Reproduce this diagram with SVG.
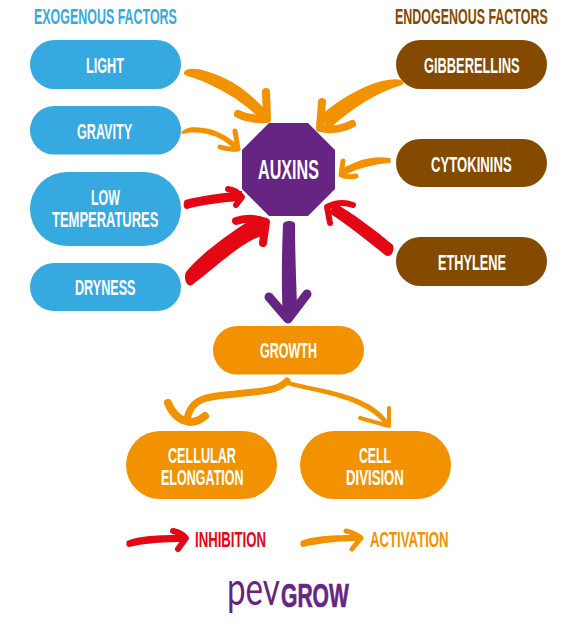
<svg xmlns="http://www.w3.org/2000/svg" width="575" height="635" viewBox="0 0 575 635">
<style>
text{font-family:"Liberation Sans",Arial,sans-serif;font-weight:700;font-size:22px}
.w{fill:#fff}
.blue{fill:#36a9e1}.brown{fill:#844a00}.orange{fill:#f39200}.purple{fill:#662483}.red{fill:#e30613}
.ho,.hr,.hp{fill:none;stroke-linecap:round;stroke-linejoin:round}
.ho{stroke:#f39200}.hr{stroke:#e30613}.hp{stroke:#662483}
</style>
<rect width="575" height="635" fill="#fff"/>
<g id="connectors">
<path class="orange" d="M185 71C190 66 205 70 217 75C235 82 252 94 269 114L262 121C250 108 240 102 233 97C218 88 200 79 187 76C184 75 183 73 185 71Z"/>
<path class="ho" stroke-width="8" d="M266 92L267 119Q250 120 238 114"/>
<path class="orange" d="M181 133C186 125 200 127 213 130C222 133 230 138 238 145L235 150C228 143 222 140 217 137C206 133 195 131 183 134Z"/>
<path class="ho" stroke-width="5" d="M235 131L238 149Q228 150 220 147"/>
<path class="red" d="M185 200C200 196 222 193 242 191L242 201C222 202 200 205 187 209C183 209 183 203 185 200Z"/>
<path class="hr" stroke-width="6" d="M228 189Q236 190 242 197L236 205"/>
<path class="red" d="M186 272C200 255 225 236 252 219L268 226L262 236C245 240 218 265 192 285C187 288 183 278 186 272Z"/>
<path class="hr" stroke-width="8" d="M236 221Q250 216 266 222L263 243"/>
<path class="orange" d="M401 80C385 76 350 90 320 116L328 130C353 107 378 92 402 85C404 84 403 81 401 80Z"/>
<path class="ho" stroke-width="8" d="M322 102L320 128Q335 132 352 124"/>
<path class="orange" d="M390 158C372 155 355 161 340 170L345 175C358 168 375 164 390 163C391 162 391 159 390 158Z"/>
<path class="ho" stroke-width="5" d="M343 161L341 175Q348 178 356 176"/>
<path class="red" d="M393 245C375 230 355 215 335 203L329 213C345 223 368 241 385 255C391 259 395 250 393 245Z"/>
<path class="hr" stroke-width="6" d="M330 223L327 207Q340 200 353 205"/>
<path class="purple" d="M283 224C284 220 295 220 295 224C295 250 296 275 297 306L283 318C281 285 282 250 283 224Z"/>
<polyline class="hp" stroke-width="9" points="269,297 288,319 307,294"/>
<path class="ho" stroke-width="7" d="M287 381C278 391 262 391 235 394C210 396 190 397 187 420"/>
<path class="ho" stroke-width="8" d="M168 403Q175 420 190 422Q198 422 205 416"/>
<path class="orange" d="M288 381C320 390 370 392 390 424L386 426C365 398 320 394 287 385Z"/>
<polyline class="ho" stroke-width="4" points="389,408 389,426 360,418"/>
</g>
<g id="node-light"><rect class="blue" x="30" y="40" width="151" height="49" rx="24.5"/><text class="w" transform="matrix(.576 0 0 1 86 73)">LIGHT</text></g>
<g id="node-gravity"><rect class="blue" x="30" y="106" width="151" height="48.500" rx="24.250"/><text class="w" transform="matrix(.573 0 0 1 77 139)">GRAVITY</text></g>
<g id="node-low-temperatures"><rect class="blue" x="30" y="172" width="151" height="74" rx="37"/><text class="w" transform="matrix(.565 0 0 1 91 205)">LOW</text><text class="w" transform="matrix(.59 0 0 1 52 227)">TEMPERATURES</text></g>
<g id="node-dryness"><rect class="blue" x="30" y="263" width="151" height="48" rx="24"/><text class="w" transform="matrix(.574 0 0 1 75 295)">DRYNESS</text></g>
<g id="node-gibberellins"><rect class="brown" x="396" y="40" width="151" height="49" rx="24.5"/><text class="w" transform="matrix(.584 0 0 1 424 73)">GIBBERELLINS</text></g>
<g id="node-cytokinins"><rect class="brown" x="396" y="139" width="151" height="48" rx="24"/><text class="w" transform="matrix(.597 0 0 1 431 172)">CYTOKININS</text></g>
<g id="node-ethylene"><rect class="brown" x="396" y="237" width="151" height="49" rx="24.5"/><text class="w" transform="matrix(.58 0 0 1 438 270)">ETHYLENE</text></g>
<g id="node-auxins"><polygon class="purple" points="269,123 308,123 335,150 335,189 308,216 269,216 242,189 242,150"/><text class="w" style="font-size:27px" transform="matrix(.598 0 0 1 258 179)">AUXINS</text></g>
<g id="node-growth"><rect class="orange" x="213" y="326" width="151" height="48.500" rx="24.250"/><text class="w" transform="matrix(.569 0 0 1 260 358)">GROWTH</text></g>
<g id="node-cellular-elongation"><rect class="orange" x="126" y="431" width="151" height="68" rx="34"/><text class="w" transform="matrix(.574 0 0 1 168 463)">CELLULAR</text><text class="w" transform="matrix(.57 0 0 1 161 485)">ELONGATION</text></g>
<g id="node-cell-division"><rect class="orange" x="300" y="431" width="151" height="68" rx="34"/><text class="w" transform="matrix(.557 0 0 1 359 463)">CELL</text><text class="w" transform="matrix(.6 0 0 1 346 485)">DIVISION</text></g>
<g id="headers">
<text class="blue" transform="matrix(.566 0 0 1 34 24)">EXOGENOUS FACTORS</text>
<text class="brown" transform="matrix(.567 0 0 1 395 24)">ENDOGENOUS FACTORS</text>
</g>
<g id="legend">
<path class="red" d="M127 541C140 535 165 535 185 535L186 542C165 542 145 543 129 547C126 547 126 543 127 541Z"/>
<path class="hr" stroke-width="6" d="M173 531Q182 533 186 538L178 549"/>
<text class="red" transform="matrix(.599 0 0 1 195 547)">INHIBITION</text>
<path class="orange" d="M301 541C315 535 340 535 360 535L360 541C340 541 320 543 303 547C300 547 300 543 301 541Z"/>
<path class="ho" stroke-width="5" d="M346 531Q355 533 361 538L352 549"/>
<text class="orange" transform="matrix(.6 0 0 1 370 547)">ACTIVATION</text>
</g>
<g id="logo">
<text class="purple" style="font-family:Lato,'Liberation Sans',sans-serif;font-size:46px;font-weight:400" transform="matrix(.72 0 0 1 227 605)">pev</text>
<text class="purple" style="font-size:34px;stroke:#662483;stroke-width:.7" transform="matrix(.62 0 0 1 281 607)">GROW</text>
</g>
</svg>
